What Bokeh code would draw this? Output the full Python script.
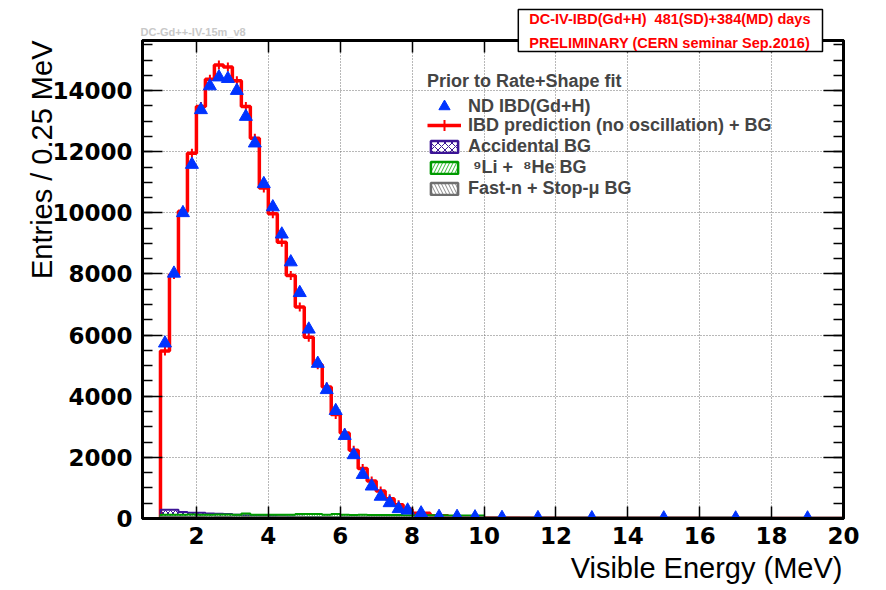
from bokeh.plotting import figure
from bokeh.models import (Range1d, LinearAxis, SingleIntervalTicker, Legend, LegendItem,
                          Label, Title, ColumnDataSource)
from bokeh.core.properties import value
from bokeh.embed import file_html
from bokeh.resources import INLINE

# ---------------- data (entries / 0.25 MeV) ----------------
bin_edges = [1.0, 1.25, 1.5, 1.75, 2.0, 2.25, 2.5, 2.75, 3.0, 3.25, 3.5, 3.75, 4.0,
             4.25, 4.5, 4.75, 5.0, 5.25, 5.5, 5.75, 6.0, 6.25, 6.5, 6.75, 7.0, 7.25,
             7.5, 7.75, 8.0, 8.5, 9.0, 9.5, 10.0, 11.0, 12.0, 14.0, 16.0, 18.0, 20.0]

nd_ibd = [5735, 8020, 10000, 11580, 13370, 14150, 14440, 14390, 14000, 13150, 12280,
          10950, 10190, 9300, 8390, 7385, 6190, 5070, 4210, 3525, 2710, 2080, 1435,
          1055, 720, 510, 315, 270, 175, 60, 60, 45, 25, 20, 15, 12, 10, 10]

prediction = [5480, 7985, 10050, 11950, 13480, 14370, 14840, 14770, 14320, 13480, 12445,
              10810, 9975, 9040, 7950, 6920, 5930, 5030, 4300, 3400, 2800, 2230, 1640,
              1230, 900, 650, 450, 300, 170, 90, 55, 35, 25, 15, 10, 6, 4, 3]

accidental_bg = [290, 285, 215, 190, 185, 160, 155, 150, 120, 110, 100, 90, 80, 70, 62,
                 55, 50, 45, 40, 35, 30, 26, 22, 19, 16, 13, 11, 9, 7, 5, 4, 3, 2, 1, 1,
                 0, 0, 0]

li_he_bg = [120, 125, 125, 130, 125, 125, 130, 128, 125, 160, 125, 122, 125, 120, 125,
            150, 150, 150, 120, 150, 120, 118, 120, 115, 118, 115, 112, 110, 110, 105,
            100, 100, 0, 0, 0, 0, 0, 0]

fast_n_bg = [48, 46, 47, 45, 46, 44, 45, 46, 44, 45, 43, 45, 44, 46, 44, 45, 43, 44, 45,
             43, 44, 42, 44, 43, 42, 44, 43, 42, 42, 41, 42, 40, 41, 40, 39, 38, 37, 36]

x_ticks_interval = 2
y_ticks_interval = 2000

# ---------------- derived ----------------
lo = bin_edges[:-1]
hi = bin_edges[1:]
centers = [(a + b) / 2 for a, b in zip(lo, hi)]


def step_path(vals):
    xs, ys = [lo[0]], [0.0]
    for a, b, v in zip(lo, hi, vals):
        xs += [a, b]
        ys += [v, v]
    xs.append(hi[-1])
    ys.append(0.0)
    return xs, ys


def try_set(obj, name, val):
    try:
        setattr(obj, name, val)
        return True
    except Exception:
        return False


RED = "#ff0000"
BLUE = "#0033ff"
PURPLE = "#3c1496"
GREEN = "#009a00"
GREEN_H = "#33bb33"
GREY = "#6e6e6e"
BOLD_TICK_FONT = "DejaVu Sans"
TXT_FONT = "Liberation Sans"

p = figure(width=886, height=590, x_range=Range1d(0.5, 20), y_range=Range1d(0, 15640),
           output_backend="svg", toolbar_location=None, title=None,
           min_border_left=142, min_border_right=43, min_border_top=40, min_border_bottom=72)
p.background_fill_color = "white"
p.border_fill_color = "white"
p.outline_line_color = "black"
p.outline_line_width = 3

# axes
xt = SingleIntervalTicker(interval=x_ticks_interval, num_minor_ticks=0)
yt = SingleIntervalTicker(interval=y_ticks_interval, num_minor_ticks=4)

xb = p.xaxis[0]
xb.ticker = xt
yl = p.yaxis[0]
yl.ticker = yt

xb.major_tick_in = 12
xb.major_tick_out = 0
xb.minor_tick_line_color = None
yl.major_tick_in = 20
yl.major_tick_out = 0
yl.minor_tick_in = 10
yl.minor_tick_out = 0

for ax in (xb, yl):
    ax.axis_line_width = 3
    ax.major_tick_line_width = 1.5
    ax.minor_tick_line_width = 1.5
    ax.major_label_text_font = BOLD_TICK_FONT
    ax.major_label_text_font_style = "bold"
    ax.major_label_text_font_size = "23px"
    ax.major_label_text_color = "black"
xb.major_label_standoff = 8
yl.major_label_standoff = 10

xtop = LinearAxis(ticker=SingleIntervalTicker(interval=x_ticks_interval, num_minor_ticks=0),
                  major_tick_in=12, major_tick_out=0, minor_tick_line_color=None,
                  major_label_text_font_size="0px", major_label_standoff=0,
                  axis_line_width=3, major_tick_line_width=1.5)
p.add_layout(xtop, "above")
yr = LinearAxis(ticker=SingleIntervalTicker(interval=y_ticks_interval, num_minor_ticks=4),
                major_tick_in=20, major_tick_out=0, minor_tick_in=10, minor_tick_out=0,
                major_label_text_font_size="0px", major_label_standoff=0,
                axis_line_width=3, major_tick_line_width=1.5, minor_tick_line_width=1.5)
p.add_layout(yr, "right")

p.xgrid.ticker = xt
p.ygrid.ticker = yt
for g in (p.xgrid, p.ygrid):
    g.grid_line_color = "#707070"
    g.grid_line_width = 1
    g.grid_line_dash = "1 2"

# axis titles (ROOT style: right-aligned at the axis end)
xtitle = Title(text="Visible Energy (MeV)", align="right", vertical_align="top",
               text_font=TXT_FONT, text_font_style="normal", text_font_size="29px",
               text_color="black", offset=1)
try_set(xtitle, "standoff", 10)
p.add_layout(xtitle, "below")

ytitle = Title(text="Entries / 0.25 MeV", align="right", vertical_align="bottom",
               text_font=TXT_FONT, text_font_style="normal", text_font_size="29px",
               text_color="black", offset=0)
try_set(ytitle, "standoff", -16)
p.add_layout(ytitle, "left")

# prediction histogram
rx, ry = step_path(prediction)
red_line = p.line(rx, ry, line_color=RED, line_width=3.5)
red_err = p.scatter(centers, prediction, marker="cross", size=9, line_color=RED, line_width=2)

# backgrounds
src_bg = ColumnDataSource(dict(left=lo, right=hi, acc=accidental_bg, li=li_he_bg, fn=fast_n_bg))
p.extra_y_ranges = {"legend_proxy": Range1d(-30000, -20000)}

bg_specs = [("acc", accidental_bg, PURPLE, PURPLE, "x"),
            ("li", li_he_bg, GREEN, GREEN_H, "/"),
            ("fn", fast_n_bg, GREY, "#8a8a8a", "\\")]
legend_proxies = {}
for key, vals, lc, hc, hp in bg_specs:
    p.quad(left="left", right="right", bottom=0, top=key, source=src_bg,
           fill_color=None, line_color=None, hatch_pattern=hp, hatch_color=hc,
           hatch_scale=5, hatch_weight=1)
    bx, by = step_path(vals)
    p.line(bx, by, line_color=lc, line_width=2)
    # same histogram on an off-screen range: only its legend swatch is visible
    legend_proxies[key] = p.quad(left="left", right="right", bottom=0, top=key, source=src_bg,
                                 y_range_name="legend_proxy",
                                 fill_color=None, line_color=lc, line_width=2.5,
                                 hatch_pattern=hp, hatch_color=hc, hatch_scale=7,
                                 hatch_weight=1)

# data points
tri = p.scatter(centers, nd_ibd, marker="triangle", size=13, fill_color=BLUE, line_color=BLUE)


def style_legend(lg, gh):
    lg.label_text_font = TXT_FONT
    lg.label_text_font_style = "bold"
    lg.label_text_font_size = "18px"
    lg.title_text_font = TXT_FONT
    lg.title_text_font_style = "bold"
    lg.title_text_font_size = "18px"
    lg.title_standoff = 0
    lg.border_line_color = None
    lg.background_fill_alpha = 0
    lg.glyph_width = 34
    lg.glyph_height = gh
    lg.label_height = 20
    lg.spacing = 0
    lg.padding = 0
    lg.margin = 0
    lg.label_standoff = 7


leg1 = Legend(items=[LegendItem(label=value("ND IBD(Gd+H)"), renderers=[tri])],
              location=(285, 398), title="Prior to Rate+Shape fit")
style_legend(leg1, 28)
leg2 = Legend(items=[LegendItem(label=value("IBD prediction (no oscillation) + BG"),
                                renderers=[red_line, red_err])],
              location=(285, 379))
style_legend(leg2, 28)
leg3 = Legend(items=[
    LegendItem(label=value("Accidental BG"), renderers=[legend_proxies["acc"]]),
    LegendItem(label=value(" \u2079Li +  \u2078He BG"), renderers=[legend_proxies["li"]]),
    LegendItem(label=value("Fast-n + Stop-\u03bc BG"), renderers=[legend_proxies["fn"]]),
], location=(285, 319))
style_legend(leg3, 15)
for lg in (leg1, leg2, leg3):
    p.add_layout(lg)

# info box above the frame (a side-panel title that reaches down over the frame edge)
info = Title(text="DC-IV-IBD(Gd+H)\u00a0 481(SD)+384(MD) days\nPRELIMINARY (CERN seminar Sep.2016)",
             align="right", vertical_align="bottom", offset=21,
             text_font=TXT_FONT, text_font_style="bold", text_font_size="14.5px",
             text_color=RED, text_line_height=1.5,
             background_fill_color="white", background_fill_alpha=1,
             border_line_color="black", border_line_width=1.5)
try_set(info, "padding", (11, 12, 1, 1))
try_set(info, "standoff", -22)
p.add_layout(info, "above")

# small production tag, top-left above the frame
tag = Label(x=140, y=31, text="DC-Gd++-IV-15m_v8",
            text_align="left", text_baseline="middle",
            text_font=TXT_FONT, text_font_style="bold",
            text_font_size="11px", text_color="#c8c8c8")
if not (try_set(tag, "x_units", "canvas") and try_set(tag, "y_units", "canvas")):
    tag.x_units = "screen"
    tag.y_units = "screen"
    tag.x = -2
    tag.y = -10
p.add_layout(tag, "above")

open("out.html", "w").write(file_html(p, INLINE))
